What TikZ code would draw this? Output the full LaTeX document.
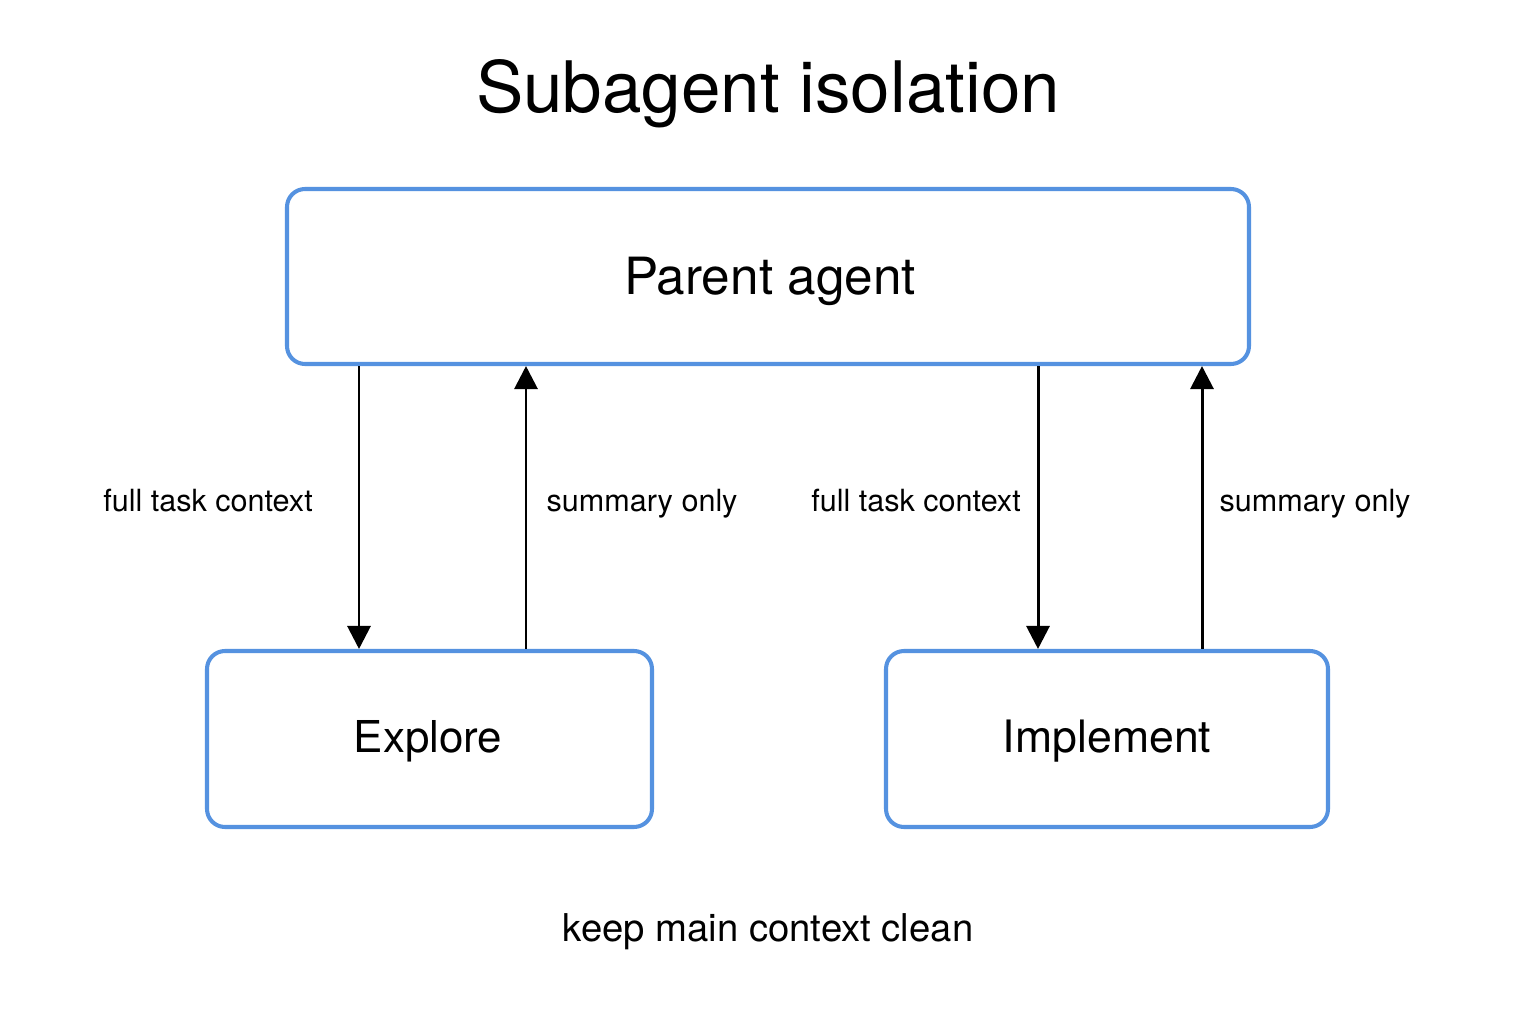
\documentclass[tikz,border=0pt]{standalone}
\usepackage{fontspec}
\setmainfont{TeX Gyre Heros}
\usetikzlibrary{arrows.meta}
\definecolor{boxblue}{HTML}{5592E0}
\tikzset{
  agentbox/.style={draw=boxblue, line width=2.3pt, rounded corners=0.36cm, fill=white, inner sep=0pt},
  flow/.style={line width=1.7pt, -{Triangle[length=0.46cm,width=0.46cm]}},
  lbl/.style={font=\fontsize{17.4}{20}\selectfont, inner sep=0pt, text height=1.2ex+0.3em, text depth=0.25em}
}
\begin{document}
\begin{tikzpicture}[x=0.02cm,y=-0.02cm]
\useasboundingbox[fill=white] (0,0) rectangle (1536,1024);
\node[font=\fontsize{40.4}{46}\selectfont] (title) at (768,94) {Subagent isolation};
\node[agentbox, minimum width=962*0.02cm, minimum height=175*0.02cm] (parent) at (768,276.5) {};
\node[font=\fontsize{29.2}{35}\selectfont] (parentlbl) at (770,281) {Parent agent};
\node[agentbox, minimum width=445*0.02cm, minimum height=176*0.02cm] (explore) at (429.5,739) {};
\node[font=\fontsize{25}{30}\selectfont] (explorelbl) at (428,741) {Explore};
\node[agentbox, minimum width=442*0.02cm, minimum height=176*0.02cm] (impl) at (1107,739) {};
\node[font=\fontsize{25.4}{30}\selectfont] (impllbl) at (1107,741) {Implement};
% arrows
\draw[flow] (parent.south -| 359,0) -- (explore.north -| 359,0);
\draw[flow] (explore.north -| 526,0) -- (parent.south -| 526,0);
\draw[flow] (parent.south -| 1038,0) -- (impl.north -| 1038,0);
\draw[flow] (impl.north -| 1202,0) -- (parent.south -| 1202,0);
\node[lbl] (l1) at (208,506) {full task context};
\node[lbl] (l2) at (642,506) {summary only};
\node[lbl] (l3) at (916,506) {full task context};
\node[lbl] (l4) at (1315,506) {summary only};
\node[font=\fontsize{21.8}{26}\selectfont] (foot) at (768,932) {keep main context clean};
\end{tikzpicture}
\end{document}
